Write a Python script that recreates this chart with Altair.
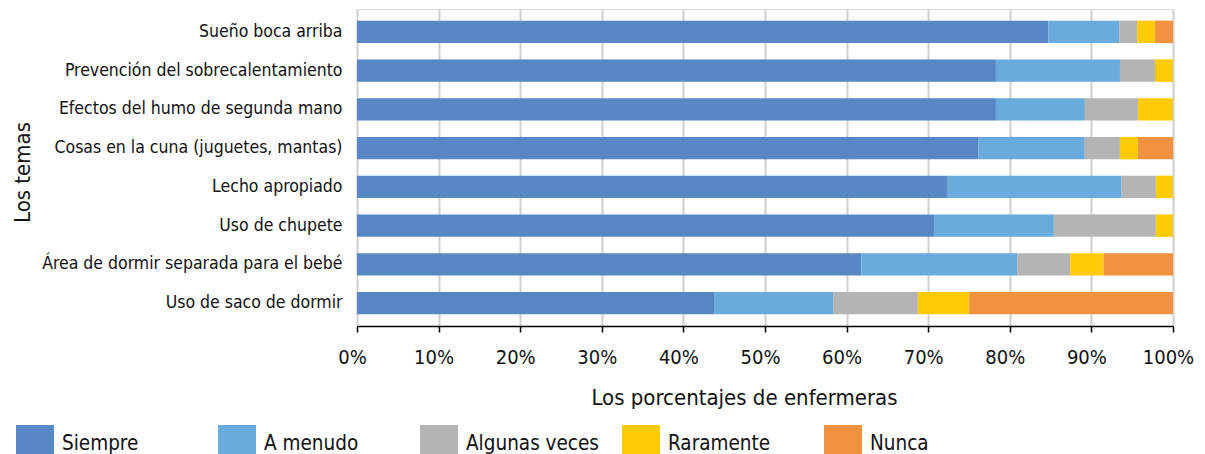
import altair as alt
import pandas as pd

temas = [
    "Sueño boca arriba",
    "Prevención del sobrecalentamiento",
    "Efectos del humo de segunda mano",
    "Cosas en la cuna (juguetes, mantas)",
    "Lecho apropiado",
    "Uso de chupete",
    "Área de dormir separada para el bebé",
    "Uso de saco de dormir",
]
respuestas = ["Siempre", "A menudo", "Algunas veces", "Raramente", "Nunca"]
colores = ["#5788C5", "#69ABDD", "#B4B4B4", "#FECB05", "#F2923E"]

siempre = [84.8, 78.3, 78.3, 76.1, 72.4, 70.8, 61.8, 43.8]
a_menudo = [8.7, 15.2, 10.9, 13.0, 21.3, 14.6, 19.1, 14.6]
algunas_veces = [2.2, 4.3, 6.5, 4.3, 4.2, 12.5, 6.5, 10.4]
raramente = [2.2, 2.2, 4.3, 2.2, 2.1, 2.1, 4.1, 6.3]
nunca = [2.2, 0.0, 0.0, 4.3, 0.0, 0.0, 8.5, 25.0]

series = [siempre, a_menudo, algunas_veces, raramente, nunca]
rows = []
for ri, (resp, vals) in enumerate(zip(respuestas, series)):
    for tema, v in zip(temas, vals):
        rows.append({"tema": tema, "respuesta": resp, "orden": ri, "valor": v / 100.0})
df = pd.DataFrame(rows)

FONT = "DejaVu Sans Condensed, Lato, sans-serif"

chart = (
    alt.Chart(df)
    .mark_bar()
    .encode(
        x=alt.X(
            "valor:Q",
            stack="normalize",
            scale=alt.Scale(domain=[0, 1], nice=False),
            axis=alt.Axis(
                title="Los porcentajes de enfermeras",
                format=".0%",
                values=[i / 10 for i in range(11)],
                grid=True,
                gridColor="#CFCFCF",
                gridWidth=2,
                domainColor="#000000",
                domainWidth=1.5,
                tickColor="#000000",
                tickWidth=1.5,
                tickSize=6,
                labelFont=FONT,
                labelFontSize=20,
                labelColor="#111111",
                labelPadding=25,
                labelOffset=-5,
                labelBaseline="middle",
                labelFlush=False,
                titleFont=FONT,
                titleFontSize=22,
                titleFontWeight="normal",
                titleColor="#111111",
                titleX=387,
                titleY=71,
                titleBaseline="middle",
                titleAlign="center",
            ),
        ),
        y=alt.Y(
            "tema:N",
            sort=temas,
            scale=alt.Scale(paddingInner=0.42, paddingOuter=0.3),
            axis=alt.Axis(
                title="Los temas",
                ticks=False,
                domain=False,
                grid=False,
                labelFont=FONT,
                labelFontSize=17.5,
                labelColor="#111111",
                labelPadding=15,
                labelLimit=400,
                titleFont=FONT,
                titleFontSize=22,
                titleFontWeight="normal",
                titleColor="#111111",
                titleAngle=270,
                titleX=-335,
                titleY=163,
                titleAlign="center",
                titleBaseline="middle",
            ),
        ),
        color=alt.Color(
            "respuesta:N",
            sort=respuestas,
            scale=alt.Scale(domain=respuestas, range=colores),
            legend=alt.Legend(
                title=None,
                orient="none",
                legendX=-341,
                legendY=416,
                direction="horizontal",
                columns=5,
                gridAlign="all",
                columnPadding=23,
                symbolType="square",
                symbolSize=1444,
                symbolStrokeWidth=0,
                symbolOpacity=1,
                labelFont=FONT,
                labelFontSize=20.5,
                labelColor="#111111",
                labelOffset=8,
                labelLimit=300,
                padding=0,
            ),
        ),
        order=alt.Order("orden:Q", sort="ascending"),
    )
    .properties(
        width=816,
        height=317,
        autosize=alt.AutoSizeParams(type="none"),
        padding={"left": 349, "top": 1, "right": 24, "bottom": 128},
    )
    .configure_view(stroke=None)
    .configure(background="#ffffff")
)

chart.save("out.html", embed_options={"renderer": "svg", "actions": False})
